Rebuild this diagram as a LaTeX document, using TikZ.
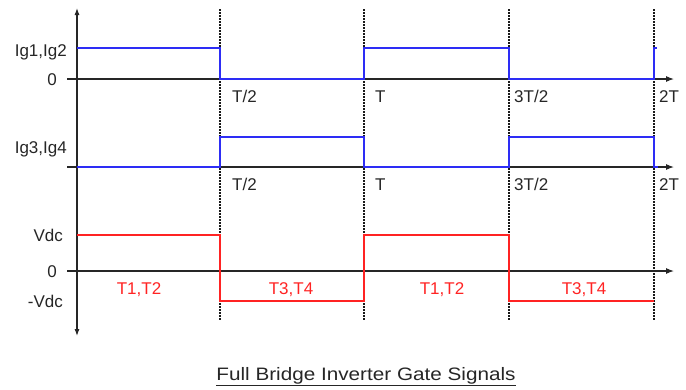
\documentclass[tikz,border=0pt]{standalone}
\usepackage{fontspec}
\setmainfont{Liberation Sans}
\usepackage{tikz}
\usetikzlibrary{arrows.meta}

\definecolor{sigblue}{RGB}{45,45,245}
\definecolor{sigred}{RGB}{255,35,35}

\tikzset{
    axis/.style={line width=1.1pt, black!85},
    gate/.style={line width=2.8pt, sigblue},
    volt/.style={line width=2pt, sigred},
    period/.style={line width=1.7pt, black!90, dash pattern=on 1.5pt off 1.5pt},
    lab/.style={inner sep=0pt, font=\fontsize{17}{20}\selectfont, text=black!85},
    seg/.style={lab, text=sigred},
}

\begin{document}
\begin{tikzpicture}[x=1pt, y=-1pt]
    \useasboundingbox (0, 0) rectangle (686, 389); % page size
    % periods
    \foreach \px in {220, 364, 509, 654}
        \draw[period] (\px, 9) -- (\px, 320);
    % axes
    \draw[axis, {Latex[length=7pt,width=5pt]}-{Latex[length=7pt,width=5pt]}] (77, 8) -- (77, 336);
    \foreach \ay in {79, 167, 271}
        \draw[axis, -{Latex[length=8pt,width=6pt]}] (67, \ay) -- (674, \ay);
    % signals
    \draw[gate] (77, 48) -- (220, 48) -- (220, 79) -- (364, 79) -- (364, 48)
        -- (509, 48) -- (509, 79) -- (654, 79) -- (654, 48) -- (657, 48);
    \draw[gate] (77, 167) -- (220, 167) -- (220, 137) -- (364, 137) -- (364, 167)
        -- (509, 167) -- (509, 137) -- (654, 137) -- (654, 167) -- (658, 167);
    \draw[volt] (77, 235) -- (220, 235) -- (220, 301) -- (364, 301) -- (364, 235)
        -- (509, 235) -- (509, 301) -- (654, 301);
    % levels
    \node[lab, anchor=base east] (ig12) at (67, 56) {Ig1,Ig2};
    \node[lab, anchor=base east] (zero1) at (57, 85) {0};
    \node[lab, anchor=base east] (ig34) at (67, 153) {Ig3,Ig4};
    \node[lab, anchor=base east] (vdc) at (63, 241) {Vdc};
    \node[lab, anchor=base east] (zero3) at (57, 277) {0};
    \node[lab, anchor=base east] (mvdc) at (63, 307) {-Vdc};
    % times
    \foreach \tx/\tl/\tn in {232/T\slash 2/a, 375/T/b, 514/3T\slash 2/c, 659/2T/d} {
        \node[lab, anchor=base west] (t1\tn) at (\tx, 102) {\tl};
        \node[lab, anchor=base west] (t2\tn) at (\tx, 190) {\tl};
    }
    % switches
    \node[seg, anchor=base] (sa) at (139, 294) {T1,T2};
    \node[seg, anchor=base] (sb) at (291, 294) {T3,T4};
    \node[seg, anchor=base] (sc) at (442, 294) {T1,T2};
    \node[seg, anchor=base] (sd) at (584, 294) {T3,T4};
    \node[lab, anchor=base, font=\fontsize{18}{21}\selectfont] (title) at (366, 380)
        {\scalebox{1.15}[1]{\underline{Full Bridge Inverter Gate Signals}}};
\end{tikzpicture}
\end{document}
